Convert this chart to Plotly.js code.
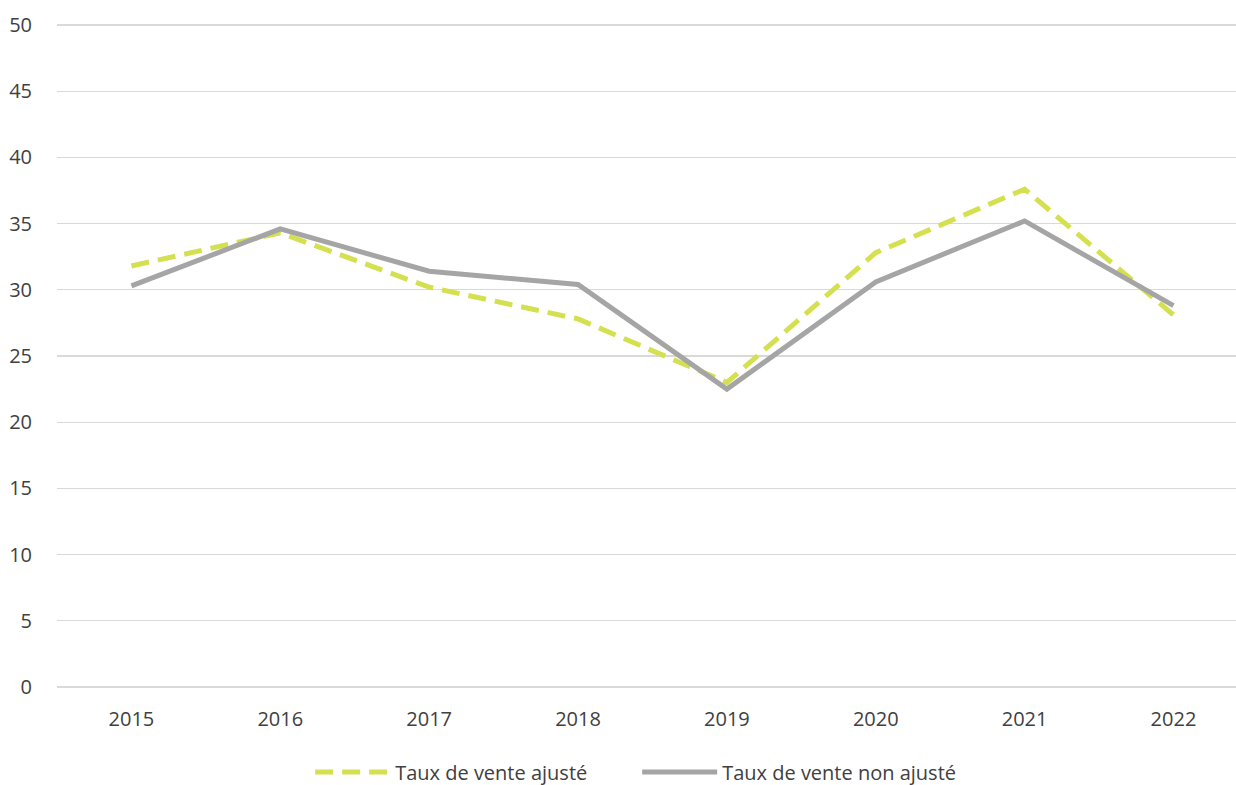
<!DOCTYPE html>
<html>
<head>
<meta charset="utf-8">
<script src="https://cdn.plot.ly/plotly-3.0.1.min.js"></script>
<style>html,body{margin:0;padding:0;background:#fff;}#chart{width:1236px;height:785px;}</style>
</head>
<body>
<div id="chart"></div>
<script>
const years = ["2015","2016","2017","2018","2019","2020","2021","2022"];
const tauxAjuste = [31.8, 34.3, 30.2, 27.8, 23.0, 32.8, 37.6, 28.1];
const tauxNonAjuste = [30.3, 34.6, 31.4, 30.4, 22.5, 30.6, 35.2, 28.8];
const yTicks = [0,5,10,15,20,25,30,35,40,45,50];

const font = {family: "Open Sans, Liberation Sans, sans-serif", size: 20, color: "#404040"};

const traces = [
  {x: years, y: tauxAjuste, name: "Taux de vente ajusté", type: "scatter", mode: "lines",
   line: {color: "#d4e04f", width: 5, dash: "18px,9px"}},
  {x: years, y: tauxNonAjuste, name: "Taux de vente non ajusté", type: "scatter", mode: "lines",
   line: {color: "#a5a5a5", width: 5}}
];

const layout = {
  width: 1236, height: 785,
  margin: {l: 57, r: 0, t: 23, b: 96},
  paper_bgcolor: "#fff", plot_bgcolor: "#fff",
  font: font,
  showlegend: true,
  legend: {orientation: "h", x: 0.5155, xanchor: "center", xref: "container", y: 0.0166, yref: "container", yanchor: "middle",
           font: font, itemwidth: 75, entrywidth: 237, entrywidthmode: "pixels", traceorder: "normal"},
  xaxis: {type: "category", range: [-0.5, 7.42], showgrid: false, zeroline: false, showline: false,
          ticks: "outside", ticklen: 12, tickcolor: "rgba(0,0,0,0)", tickfont: font, fixedrange: true},
  yaxis: {range: [-0.15, 50.15], tickvals: yTicks, ticktext: yTicks.map(String), showgrid: true, gridcolor: "#d9d9d9", gridwidth: 1.3,
          zeroline: false, showline: false, ticks: "outside", ticklen: 20, tickcolor: "rgba(0,0,0,0)", tickfont: font, fixedrange: true}
};

Plotly.newPlot("chart", traces, layout, {displayModeBar: false, staticPlot: true});
</script>
</body>
</html>
